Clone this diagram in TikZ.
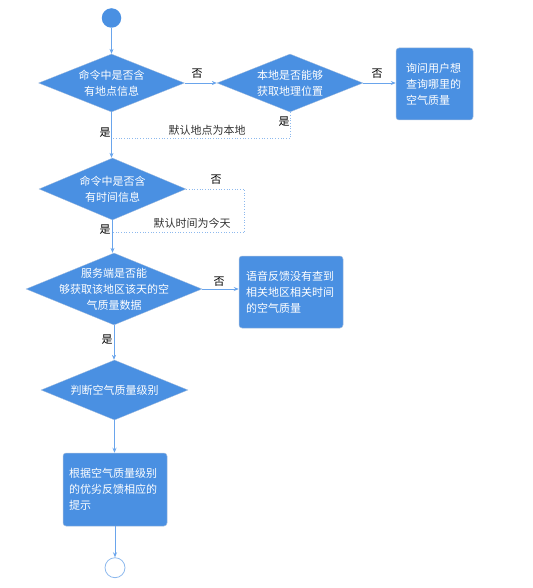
\documentclass[tikz,border=0pt]{standalone}
\usepackage{fontspec}
\setmainfont{Noto Sans CJK SC}
\usetikzlibrary{shapes.geometric,arrows.meta}
\definecolor{fillblue}{HTML}{4A90E2}
\definecolor{lineblue}{HTML}{6AA5EC}
\definecolor{dotblue}{HTML}{8DB9EE}
\definecolor{boxedge}{HTML}{A8BFDD}
\begin{document}
\begin{tikzpicture}[x=1pt,y=-1pt,
  txt/.style={font=\fontsize{11}{16}\selectfont},
  dec/.style={diamond,fill=fillblue,draw=boxedge,line width=0.3pt,inner sep=0pt,txt},
  dlab/.style={text=white,align=center,txt},
  procbox/.style={rectangle,rounded corners=3pt,fill=fillblue,draw=boxedge,line width=0.5pt,
     text=white,align=left,inner ysep=0pt,txt},
  arr/.style={draw=lineblue,line width=0.8pt,-{Stealth[length=5pt,width=4pt]}},
  dotline/.style={draw=dotblue,line width=0.7pt,dotted},
  yn/.style={txt,text=black,inner sep=0pt},
  note/.style={txt,text=black!80,inner sep=0pt}]
\useasboundingbox (0,0) rectangle (532,588);
% start / end
\node[circle,fill=fillblue,minimum size=19.5pt,inner sep=0pt] (start) at (111.5,18) {};
\node[circle,fill=white,draw=dotblue,line width=0.8pt,minimum size=20pt,inner sep=0pt] (end) at (115,567.7) {};
% decisions
\node[dec,minimum width=146pt,minimum height=58pt,label={[dlab]center:命令中是否含\\有地点信息}] (d1) at (111.5,83) {};
\node[dec,minimum width=146pt,minimum height=58pt,label={[dlab]center:本地是否能够\\获取地理位置}] (d2) at (290,83) {};
\node[dec,minimum width=147pt,minimum height=62pt,label={[dlab]center:命令中是否含\\有时间信息}] (d3) at (112.5,189) {};
\node[dec,minimum width=176pt,minimum height=72pt,label={[dlab]center:服务端是否能\\够获取该地区该天的空\\气质量数据}] (d4) at (114,289) {};
\node[dec,minimum width=147pt,minimum height=60pt,label={[dlab]center:判断空气质量级别}] (d5) at (114.5,390) {};
% boxes
\node[procbox,inner xsep=10pt,text width=57pt,minimum height=72pt] (q1) at (434.5,84) {询问用户想\\查询哪里的\\空气质量};
\node[procbox,inner xsep=7pt,text width=90pt,minimum height=72pt] (q2) at (291,292) {语音反馈没有查到\\相关地区相关时间\\的空气质量};
\node[procbox,inner xsep=6pt,text width=92pt,minimum height=73pt] (q3) at (115,489.5) {根据空气质量级别\\的优劣反馈相应的\\提示};
% helper coordinates on the main line
\coordinate (m1) at (111.5,138.5);
\coordinate (m2) at (112.5,232);
\coordinate (k1) at (244.5,189);
% main connectors
\draw[arr] (start) -- (start |- d1.north);
\draw[arr] (d1.east) -- (d2.west);
\draw[arr] (d2.east) -- (q1.west |- d2.east);
\draw[arr] (d1.south) -- (d1.south |- d3.north);
\draw[arr] (d3.south) -- (d3.south |- d4.north);
\draw[arr] (d4.east) -- (q2.west |- d4.east);
\draw[arr] (d4.south) -- (d4.south |- d5.north);
\draw[arr] (d5.south) -- (d5.south |- q3.north);
\draw[arr] (q3.south) -- (end.north);
% dotted default paths
\draw[dotline] (d2.south) -- (d2.south |- m1) -- (m1);
\draw[dotline] (d3.east) -- (k1) -- (k1 |- m2) -- (m2);
% labels
\node[yn] (l1) at (197,74) {否};
\node[yn] (l2) at (377,74) {否};
\node[yn] (l3) at (284,122) {是};
\node[note] (l4) at (207,130) {默认地点为本地};
\node[yn] (l5) at (105,133) {是};
\node[yn] (l6) at (216,180) {否};
\node[note] (l7) at (192,223) {默认时间为今天};
\node[yn] (l8) at (105,230) {是};
\node[yn] (l9) at (219,282) {否};
\node[yn] (l10) at (107,340) {是};
\end{tikzpicture}
\end{document}
